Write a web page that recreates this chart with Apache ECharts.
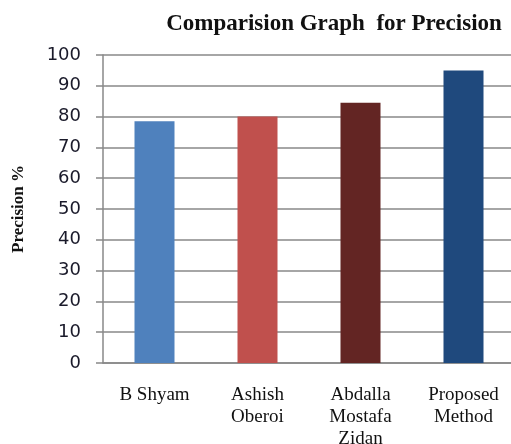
<!DOCTYPE html>
<html>
<head>
<meta charset="utf-8">
<script src="https://cdn.jsdelivr.net/npm/echarts@6/dist/echarts.min.js"></script>
<style>
html,body{margin:0;padding:0;background:#fff;}
#chart{width:511px;height:444px;}
</style>
</head>
<body>
<div id="chart"></div>
<script>
// Precision (%) reported by each method
const methods = ['B Shyam', 'Ashish\nOberoi', 'Abdalla\nMostafa\nZidan', 'Proposed\nMethod'];
const precision = [78.5, 80, 84.5, 95];
const barColors = ['#4f81bd', '#c0504d', '#632523', '#1f497d'];
const yTicks = { min: 0, max: 100, step: 10 };

const chart = echarts.init(document.getElementById('chart'));
chart.setOption({
  animation: false,
  backgroundColor: '#ffffff',
  title: {
    text: 'Comparision Graph  for Precision',
    left: 329,
    textAlign: 'center',
    top: 8,
    textStyle: { fontFamily: 'Liberation Serif', fontWeight: 'bold', fontSize: 23, color: '#111' }
  },
  grid: { left: 103, right: -4, top: 55, bottom: 81, containLabel: false, outerBoundsMode: 'none' },
  xAxis: {
    type: 'category',
    data: methods,
    axisLine: { lineStyle: { color: '#888', width: 1.5 } },
    axisTick: { show: false },
    axisLabel: {
      interval: 0,
      margin: 21,
      fontFamily: 'Liberation Serif',
      fontSize: 19,
      lineHeight: 22,
      color: '#111'
    }
  },
  yAxis: {
    type: 'value',
    min: yTicks.min,
    max: yTicks.max,
    interval: yTicks.step,
    name: 'Precision %',
    nameLocation: 'middle',
    nameGap: 76,
    nameTextStyle: { fontFamily: 'Liberation Serif', fontWeight: 'bold', fontSize: 17, color: '#111' },
    axisLine: { show: true, lineStyle: { color: '#888', width: 1.5 } },
    axisTick: { show: true, length: 7, lineStyle: { color: '#888', width: 1.5 } },
    splitLine: { lineStyle: { color: '#888', width: 1.5 } },
    axisLabel: { margin: 22, fontFamily: 'DejaVu Sans', fontSize: 18, color: '#1a1a2a' }
  },
  series: [{
    type: 'bar',
    barWidth: 40,
    data: precision.map((v, i) => ({
      value: v,
      itemStyle: { color: barColors[i] }
    }))
  }]
});
</script>
</body>
</html>
